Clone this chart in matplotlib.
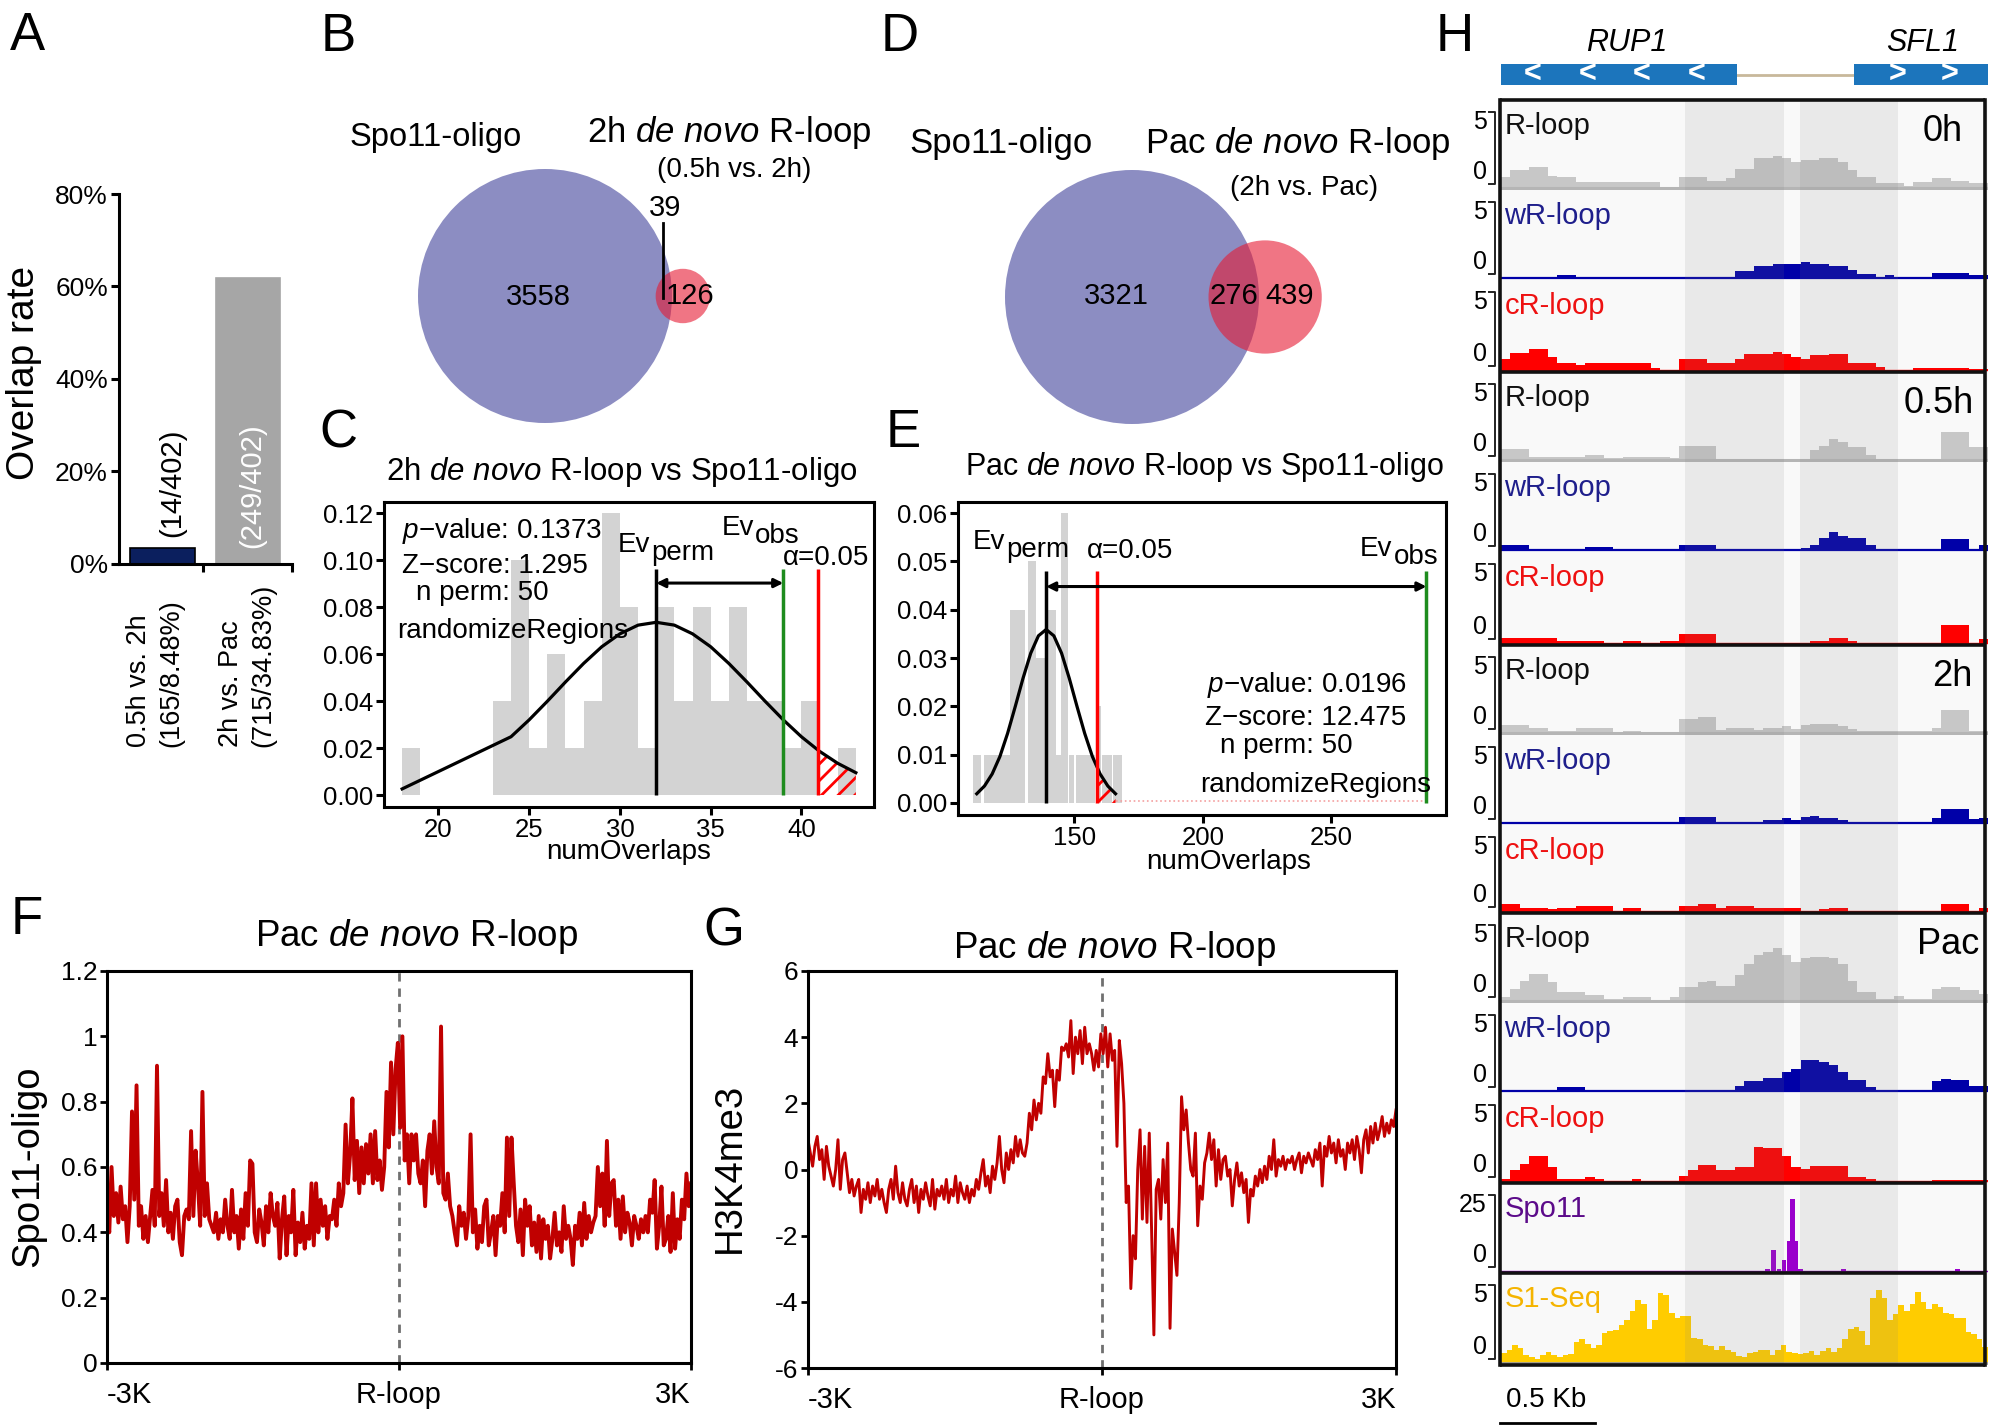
import numpy as np
import matplotlib
matplotlib.use('Agg')
import matplotlib.pyplot as plt
from matplotlib.patches import Ellipse, Rectangle

# ============================ DATA ============================
# Panel A
A_categories = ['0.5h vs. 2h\n(165/8.48%)', '2h vs. Pac\n(715/34.83%)']
A_overlap_pct = [3.48, 61.94]
A_bar_labels = ['(14/402)', '(249/402)']
A_yticks = [0, 20, 40, 60, 80]

# Panels B / D (Venn counts)
B_only_spo11, B_shared, B_only_rloop = 3558, 39, 126
D_only_spo11, D_shared, D_only_rloop = 3321, 276, 439

# Panel C (permutation test histogram)
C_bin_left = list(range(18, 43))
C_density = [0.02, 0, 0, 0, 0, 0.04, 0.10, 0.02, 0.06, 0.02, 0.04, 0.12, 0.08,
             0.02, 0.08, 0.04, 0.08, 0.04, 0.08, 0.04, 0.04, 0.02, 0.04, 0.00, 0.02]
C_curve_x = [18, 24, 25, 26, 27, 28, 29, 30, 31, 32, 33, 34, 35, 36, 37, 38, 39, 40, 41, 42, 43]
C_curve_y = [0.0026, 0.0248, 0.0320, 0.0399, 0.0481, 0.0560, 0.0631, 0.0686, 0.0723, 0.0735,
             0.0723, 0.0686, 0.0631, 0.0560, 0.0481, 0.0399, 0.0320, 0.0248, 0.0186, 0.0135, 0.0095]
C_perm, C_obs, C_alpha = 32, 39, 40.9
C_stats = ['$p$\u2212value: 0.1373', 'Z\u2212score: 1.295', 'n perm: 50', 'randomizeRegions']
C_xticks = [20, 25, 30, 35, 40]
C_yticks = [0.00, 0.02, 0.04, 0.06, 0.08, 0.10, 0.12]

# Panel E
E_bin_left = [110.5, 114.8, 118.4, 125.1, 131.8, 134.9, 138.5, 142.8, 144.7, 147.8, 150.7, 154.3, 158.3, 160.8, 165.1]
E_bin_right = [113.6, 118.4, 124.9, 130.6, 134.9, 138.5, 142.8, 144.7, 147.6, 150.0, 154.3, 157.9, 160.3, 164.8, 168.7]
E_density = [0.01, 0.01, 0.01, 0.04, 0.05, 0.03, 0.04, 0.01, 0.06, 0.01, 0.01, 0.01, 0.02, 0.01, 0.01]
E_curve_x = [112, 115, 118, 121, 124, 127, 130, 133, 136, 139, 142, 145, 148, 151, 154, 157, 160, 163, 166]
E_curve_y = [0.0019, 0.0035, 0.0060, 0.0096, 0.0144, 0.0200, 0.0258, 0.0310, 0.0346, 0.0359,
             0.0346, 0.0310, 0.0258, 0.0200, 0.0144, 0.0096, 0.0060, 0.0035, 0.0019]
E_perm, E_obs, E_alpha = 139, 287, 158.6
E_stats = ['$p$\u2212value: 0.0196', 'Z\u2212score: 12.475', 'n perm: 50', 'randomizeRegions']
E_xticks = [150, 200, 250]
E_yticks = [0.00, 0.01, 0.02, 0.03, 0.04, 0.05, 0.06]

# Panel F: Spo11-oligo profile (-3K .. +3K)
F_vals = [
 0.47, 0.40, 0.60, 0.45, 0.52, 0.43, 0.54, 0.44, 0.48, 0.37,
 0.48, 0.77, 0.50, 0.85, 0.42, 0.48, 0.38, 0.45, 0.37, 0.45,
 0.53, 0.42, 0.91, 0.45, 0.52, 0.42, 0.56, 0.40, 0.46, 0.38,
 0.48, 0.50, 0.37, 0.33, 0.45, 0.47, 0.44, 0.71, 0.45, 0.65,
 0.55, 0.42, 0.83, 0.45, 0.55, 0.44, 0.42, 0.40, 0.46, 0.38,
 0.44, 0.40, 0.50, 0.42, 0.38, 0.53, 0.40, 0.45, 0.35, 0.47,
 0.38, 0.52, 0.42, 0.62, 0.61, 0.40, 0.37, 0.47, 0.43, 0.36,
 0.48, 0.40, 0.52, 0.45, 0.42, 0.49, 0.32, 0.44, 0.51, 0.33,
 0.45, 0.40, 0.53, 0.33, 0.43, 0.37, 0.46, 0.35, 0.42, 0.38,
 0.55, 0.36, 0.55, 0.40, 0.50, 0.42, 0.48, 0.38, 0.45, 0.44,
 0.50, 0.42, 0.55, 0.48, 0.52, 0.73, 0.55, 0.64, 0.81, 0.56,
 0.68, 0.52, 0.66, 0.55, 0.67, 0.58, 0.70, 0.55, 0.71, 0.56,
 0.62, 0.53, 0.60, 0.83, 0.66, 0.92, 0.70, 0.90, 0.98, 0.72,
 1.00, 0.62, 0.70, 0.55, 0.70, 0.62, 0.70, 0.58, 0.55, 0.62,
 0.48, 0.65, 0.70, 0.58, 0.74, 0.60, 0.55, 1.03, 0.52, 0.50,
 0.58, 0.48, 0.45, 0.40, 0.36, 0.48, 0.42, 0.46, 0.38, 0.45,
 0.70, 0.40, 0.47, 0.35, 0.42, 0.37, 0.48, 0.50, 0.36, 0.40,
 0.45, 0.33, 0.45, 0.42, 0.52, 0.40, 0.69, 0.45, 0.69, 0.55,
 0.42, 0.37, 0.47, 0.33, 0.50, 0.42, 0.48, 0.36, 0.43, 0.34,
 0.45, 0.32, 0.44, 0.38, 0.42, 0.32, 0.38, 0.46, 0.36, 0.40,
 0.34, 0.48, 0.38, 0.42, 0.38, 0.30, 0.42, 0.38, 0.46, 0.36,
 0.49, 0.38, 0.45, 0.40, 0.43, 0.45, 0.60, 0.48, 0.58, 0.42,
 0.68, 0.45, 0.55, 0.56, 0.42, 0.50, 0.38, 0.51, 0.40, 0.46,
 0.43, 0.36, 0.45, 0.42, 0.38, 0.44, 0.40, 0.45, 0.40, 0.50,
 0.46, 0.56, 0.35, 0.42, 0.54, 0.36, 0.38, 0.45, 0.34, 0.52,
 0.35, 0.44, 0.38, 0.50, 0.44, 0.58, 0.48, 0.55]
F_xticks = [-3000, 0, 3000]
F_xticklabels = ['-3K', 'R-loop', '3K']
F_yticks = [0, 0.2, 0.4, 0.6, 0.8, 1.0, 1.2]
F_yticklabels = ['0', '0.2', '0.4', '0.6', '0.8', '1', '1.2']

# Panel G: H3K4me3 profile (-3K .. +3K)
G_vals = [
 0.9, 0.5, 0.1, 0.7, 1.0, 0.3, 0.6, -0.3, 0.7, 0.1,
 -0.2, -0.5, 0.0, 0.9, -0.6, 0.3, 0.5, -0.1, -0.7, -0.3,
 -0.8, -0.5, -0.3, -1.3, -0.6, -0.9, -0.4, -1.0, -0.5, -0.8,
 -0.3, -0.9, -0.6, -1.0, -1.3, -0.6, -0.3, -0.9, 0.1, -0.7,
 -1.0, -0.4, -0.9, -1.1, -0.6, -0.3, -1.0, -0.5, -1.3, -0.6,
 -0.9, -0.4, -0.8, -1.1, -0.3, -1.2, -0.6, -0.8, -0.5, -0.9,
 -0.3, -1.0, -0.6, -0.8, -0.2, -1.0, -0.4, -0.7, -0.9, -0.5,
 -1.0, -0.6, -0.8, -0.3, -0.6, -0.1, 0.3, -0.5, -0.2, -0.7,
 0.1, -0.3, 0.2, 1.0, 0.0, -0.4, 0.5, 0.0, 0.6, 0.2,
 1.0, 0.4, 0.9, 0.5, 0.4, 0.8, 1.7, 1.2, 2.1, 1.5,
 2.0, 1.7, 2.8, 2.6, 3.5, 2.8, 3.0, 1.9, 3.0, 2.7,
 3.7, 3.6, 3.8, 3.4, 4.5, 2.9, 4.0, 3.5, 4.2, 3.2,
 4.3, 3.5, 3.8, 3.5, 3.0, 3.6, 3.1, 4.1, 3.5, 4.3,
 3.1, 4.1, 3.3, 3.6, 0.7, 3.9, 3.2, 2.0, -1.0, -0.5,
 -3.6, -2.0, -2.7, 0.0, 1.2, -1.5, 0.7, -1.6, 1.1, -1.8,
 -5.0, -0.6, -0.3, -1.5, 0.3, -1.0, 0.8, -4.8, -1.8, -2.5,
 -3.2, -1.0, 2.2, 1.2, 1.8, 0.8, 0.0, -0.2, 1.1, -1.7,
 -0.5, -0.9, 0.2, 0.5, 1.1, 0.3, 0.9, -0.5, 0.6, -0.3,
 0.3, 0.4, -0.2, 0.0, -1.1, -0.3, 0.2, -0.5, -0.1, -0.7,
 -0.3, -1.6, -0.6, -0.8, -0.2, -0.5, 0.0, -0.4, 0.1, -0.3,
 0.4, 0.0, 0.9, -0.2, 0.3, 0.1, 0.4, 0.0, 0.3, 0.2,
 0.4, 0.0, 0.3, 0.5, -0.1, 0.4, 0.2, 0.5, 0.3, 0.1,
 0.6, 0.3, 0.8, -0.5, 0.7, 0.4, 1.0, 0.5, 0.8, 0.2,
 0.9, 0.4, 0.6, 0.0, 0.8, 0.5, 0.9, 0.3, 1.0, 0.6,
 -0.1, 0.9, 1.2, 0.5, 1.3, 0.8, 1.4, 0.9, 1.2, 1.6,
 1.0, 1.4, 1.1, 1.5, 1.3, 1.8]
G_yticks = [-6, -4, -2, 0, 2, 4, 6]
G_yticklabels = ['-6', '-4', '-2', '0', '2', '4', '6']

# Panel H: genome browser tracks (values on 0-5 scale, evenly spaced bins)
H_rloop_0h  = [0.6, 1.0, 1.0, 1.2, 1.2, 0.7, 0.6, 0.6, 0.35, 0.35, 0.35, 0.35, 0.35, 0.35, 0.35, 0.35, 0.35,
               0.05, 0.05, 0.6, 0.6, 0.6, 0.4, 0.4, 0.55, 1.05, 1.05, 1.7, 1.7, 1.8, 1.7, 1.5, 1.6, 1.6, 1.7,
               1.7, 1.5, 1.0, 0.6, 0.6, 0.25, 0.25, 0.25, 0.1, 0.35, 0.35, 0.55, 0.55, 0.4, 0.4, 0.3, 0.3]
H_wrloop_0h = [0, 0, 0, 0, 0, 0, 0.15, 0.15] + [0] * 17 + \
              [0.4, 0.4, 0.7, 0.7, 0.8, 0.8, 0.8, 0.9, 0.8, 0.8, 0.7, 0.7, 0.45, 0.2, 0.2, 0.02, 0.15,
               0, 0, 0, 0, 0.3, 0.3, 0.3, 0.3, 0.15, 0.15]
H_crloop_0h = [0.63, 0.95, 0.95, 1.17, 1.17, 0.7, 0.4, 0.4, 0.25, 0.4, 0.4, 0.4, 0.4, 0.4, 0.4, 0.4, 0.1, 0, 0,
               0.63, 0.63, 0.63, 0.4, 0.4, 0.4, 0.6, 0.9, 0.9, 0.9, 1.0, 0.9, 0.7, 0.6, 0.8, 0.8, 0.9, 0.9,
               0.4, 0.4, 0.4, 0.15, 0, 0, 0, 0.1, 0.1, 0.1, 0.1, 0.1, 0.1, 0.05, 0.05]
H_rloop_05h = [0.63, 0.63, 0.63, 0.15, 0.15, 0.15, 0.15, 0.15, 0.15, 0.25, 0.25, 0.1, 0.1, 0.15, 0.15, 0.15,
               0.15, 0.15, 0.1, 0.8, 0.8, 0.8, 0.8] + [0.05] * 10 + \
              [0.55, 0.8, 1.2, 1.0, 0.75, 0.75, 0.25] + [0.05] * 7 + [1.6, 1.6, 1.6, 0.75, 0.75]
H_wrloop_05h = [0.25, 0.25, 0.25] + [0] * 6 + [0.15, 0.15, 0.15] + [0] * 7 + [0.25] * 4 + [0] * 9 + \
               [0.1, 0.25, 0.7, 1.0, 0.8, 0.7, 0.7, 0.25] + [0] * 7 + [0.6, 0.6, 0.6, 0, 0.3]
H_crloop_05h = [0.25] * 6 + [0.1] * 5 + [0, 0, 0.1, 0.1, 0, 0, 0.1, 0.1] + [0.5] * 4 + [0] * 10 + \
               [0.1, 0.1, 0.25, 0.25, 0.1] + [0] * 9 + [1.0, 1.0, 1.0, 0, 0.2]
H_rloop_2h = [0.45, 0.45, 0.45, 0.3, 0.3, 0.1, 0.1, 0.1, 0.25, 0.25, 0.25, 0.25, 0.05, 0.1, 0.1,
              0.05, 0.05, 0.05, 0.05, 0.8, 0.8, 0.9, 0.9, 0.15, 0.3, 0.3, 0.3, 0.15, 0.3, 0.3, 0.4, 0.2,
              0.45, 0.5, 0.5, 0.5, 0.4, 0.2] + [0.1] * 8 + [0.3, 1.3, 1.3, 1.3, 0.1, 0.1]
H_wrloop_2h = [0] * 19 + [0.35] * 4 + [0] * 5 + [0.15, 0.15, 0.25, 0.15, 0.35, 0.4, 0.25, 0.25, 0.15] + \
              [0] * 9 + [0.25, 0.8, 0.8, 0.8, 0.2, 0.3]
H_crloop_2h = [0.4, 0.4, 0.2, 0.2, 0.2, 0.1, 0.15, 0.15, 0.3, 0.3, 0.3, 0.3, 0, 0.15, 0.15, 0, 0, 0, 0,
               0.3, 0.3, 0.4, 0.4, 0.15, 0.3, 0.3, 0.3, 0.15, 0.15, 0.15, 0.15, 0.15, 0, 0, 0.1, 0.15, 0.15] + \
              [0] * 10 + [0.4, 0.4, 0.4, 0, 0.2]
H_rloop_pac = [0.2, 0.7, 1.15, 1.55, 1.55, 1.05, 0.5, 0.5, 0.5, 0.33, 0.33, 0.13, 0.13, 0.23, 0.23, 0.23,
               0.04, 0.04, 0.2, 0.8, 0.8, 1.05, 1.15, 0.85, 0.85, 1.45, 2.1, 2.6, 2.8, 3.0, 2.6, 2.2, 2.45,
               2.5, 2.5, 2.45, 2.1, 1.15, 0.5, 0.5, 0.13, 0.13, 0.25, 0.13, 0.13, 0.13, 0.7, 0.8, 0.8,
               0.6, 0.6, 0.4]
H_wrloop_pac = [0] * 6 + [0.2] * 3 + [0] * 16 + \
               [0.3, 0.55, 0.55, 0.75, 0.75, 1.05, 1.25, 1.75, 1.75, 1.65, 1.5, 1.05, 0.6, 0.6, 0.2] + \
               [0] * 6 + [0.55, 0.7, 0.6, 0.6, 0.3, 0.3]
H_crloop_pac = [0.13, 0.6, 0.95, 1.4, 1.4, 0.8, 0.13, 0.13, 0.13, 0.23, 0.13, 0, 0, 0, 0.13, 0, 0, 0, 0,
                0.3, 0.6, 0.9, 0.9, 0.6, 0.6, 0.8, 0.8, 1.9, 1.85, 1.85, 1.4, 0.8, 0.65, 0.85, 0.85, 0.85,
                0.85, 0.2, 0.2, 0.13] + [0] * 6 + [0.05] * 6
H_spo11_pos = [54.7, 56.0, 57.1, 58.1, 59.1, 59.8, 60.6, 61.5, 70.3, 93.8]
H_spo11_val = [0.6, 6.0, 0.5, 3.0, 8.5, 20.5, 8.5, 0.4, 0.4, 0.4]
H_s1seq = [0.53, 0.72, 1.0, 0.8, 0.45, 0.35, 0.2, 0.45, 0.6, 0.45,
           0.35, 0.43, 0.5, 1.15, 1.3, 1.05, 0.85, 1.0, 1.65, 1.75,
           1.85, 2.1, 2.4, 2.9, 3.5, 3.3, 1.9, 2.4, 3.9, 3.75,
           2.8, 2.5, 2.6, 2.6, 1.4, 1.3, 1.0, 0.92, 0.72, 0.92,
           0.72, 0.63, 0.4, 0.33, 0.53, 0.6, 0.72, 0.72, 0.43, 0.72,
           0.98, 0.6, 0.53, 0.47, 0.53, 0.67, 0.43, 0.67, 0.8, 0.6,
           0.82, 1.3, 1.9, 2.0, 1.8, 1.0, 3.6, 4.05, 3.6, 2.4,
           2.7, 3.2, 2.9, 3.3, 3.95, 3.4, 3.0, 3.3, 3.1, 2.8,
           2.7, 2.5, 2.5, 1.7, 1.6, 1.3, 0.9]
H_bands = [(37.8, 58.1), (61.4, 81.6)]
H_genes = ['RUP1', 'SFL1']
H_gene_start = [0.0, 73.0]
H_gene_end = [48.5, 100.0]
H_gene_strand = ['-', '+']
H_timepoints = ['0h', '0.5h', '2h', 'Pac']

# ============================ STYLE ============================
W, H = 2008, 1425
REG = ['Liberation Sans', 'DejaVu Sans']
plt.rcParams['font.family'] = REG
plt.rcParams['mathtext.fontset'] = 'custom'
plt.rcParams['mathtext.rm'] = 'Liberation Sans'
plt.rcParams['mathtext.it'] = 'Liberation Sans:italic'
plt.rcParams['mathtext.bf'] = 'Liberation Sans:bold'
plt.rcParams['hatch.linewidth'] = 2.0

fig = plt.figure(figsize=(W / 100, H / 100), dpi=100)
fig.patch.set_facecolor('white')


def axpx(x0, y0, x1, y1, **kw):
    return fig.add_axes([x0 / W, 1 - y1 / H, (x1 - x0) / W, (y1 - y0) / H], **kw)


def frame(ax, lw=2.2):
    for s in ax.spines.values():
        s.set_linewidth(lw)
        s.set_color('black')


# ---------------- Panel A ----------------
axA = axpx(119, 194, 292, 564)
xA = np.arange(len(A_overlap_pct))
axA.bar(xA, A_overlap_pct, width=0.76, color=['#0B1F5E', '#A6A6A6'],
        edgecolor=['#000000', '#A6A6A6'], linewidth=1.2)
axA.set_xlim(-0.509, 1.515)
axA.set_ylim(0, 80)
axA.set_yticks(A_yticks, [f'{v}%' for v in A_yticks], fontsize=19)
axA.set_xticks([0.474, 1.515], ['', ''])
axA.spines[['top', 'right']].set_visible(False)
for s in ['left', 'bottom']:
    axA.spines[s].set_linewidth(2.2)
axA.tick_params(width=2.2, length=6, pad=2)
axA.text(xA[0] + 0.11, 17.6, A_bar_labels[0], rotation=90, ha='center', va='center',
         fontsize=21, color='black')
axA.text(xA[1] + 0.047, 16.9, A_bar_labels[1], rotation=90, ha='center', va='center',
         fontsize=21, color='white')

# ---------------- Panel C ----------------
axC = axpx(384, 502, 874, 807)
axC.bar(C_bin_left, C_density, width=1, align='edge', color='#D3D3D3', lw=0, zorder=1)
cx = np.array(C_curve_x, float)
cy = np.array(C_curve_y, float)
hx = np.concatenate([[C_alpha], cx[cx > C_alpha]])
axC.fill_between(hx, 0, np.interp(hx, cx, cy), facecolor='none', edgecolor='red',
                 hatch='//', lw=0, zorder=2)
axC.plot(cx, cy, color='black', lw=2.3, zorder=4)
axC.vlines(C_perm, 0, 0.096, color='black', lw=2.5, zorder=5)
axC.vlines(C_obs, 0, 0.096, color='#1E8C1E', lw=2.5, zorder=5)
axC.vlines(C_alpha, 0, 0.096, color='#FF0000', lw=2.5, zorder=5)
axC.annotate('', xy=(C_obs, 0.0902), xytext=(C_perm, 0.0902),
             arrowprops=dict(arrowstyle='<|-|>', color='black', lw=2.2, mutation_scale=13,
                             shrinkA=0, shrinkB=0), zorder=6)
axC.set_xlim(17.0, 44.0)
axC.set_ylim(-0.0051, 0.1247)
axC.set_xticks(C_xticks, [str(v) for v in C_xticks], fontsize=18.5)
axC.set_yticks(C_yticks, [f'{v:.2f}' for v in C_yticks], fontsize=18.5)
axC.set_xlabel('numOverlaps', fontsize=20, labelpad=-2)
frame(axC)
axC.tick_params(width=2.2, length=6, pad=2)
for (xt, yt), s in zip([(18.0, 0.1122), (18.0, 0.0973), (18.74, 0.0859), (17.7, 0.0696)], C_stats):
    axC.text(xt, yt, s, fontsize=20, ha='left', va='center', zorder=7)
tev = axC.text(29.9, 0.1062, 'Ev', fontsize=20, ha='left', va='center', zorder=7)
axC.annotate('perm', xy=(1.0, 0.5), xycoords=tev, xytext=(1, -8), textcoords='offset pixels',
             fontsize=20, ha='left', va='center', zorder=7)
tev2 = axC.text(35.6, 0.1136, 'Ev', fontsize=20, ha='left', va='center', zorder=7)
axC.annotate('obs', xy=(1.0, 0.5), xycoords=tev2, xytext=(1, -8), textcoords='offset pixels',
             fontsize=20, ha='left', va='center', zorder=7)
axC.text(39.0, 0.1009, '\u03b1=0.05', fontsize=20, ha='left', va='center', zorder=7)

# ---------------- Panel E ----------------
axE = axpx(958, 502, 1446, 815)
eL = np.array(E_bin_left)
eR = np.array(E_bin_right)
axE.bar(eL, E_density, width=eR - eL, align='edge', color='#D3D3D3', lw=0, zorder=1)
ex = np.array(E_curve_x, float)
ey = np.array(E_curve_y, float)
hx = np.concatenate([[E_alpha], ex[ex > E_alpha]])
axE.fill_between(hx, 0, np.interp(hx, ex, ey), facecolor='none', edgecolor='red',
                 hatch='//', lw=0, zorder=2)
axE.hlines(0.0004, ex[-1], E_obs, color='#F4A0A0', lw=1.2, ls=':', zorder=2)
axE.plot(ex, ey, color='black', lw=2.3, zorder=4)
axE.vlines(E_perm, 0, 0.048, color='black', lw=2.5, zorder=5)
axE.vlines(E_alpha, 0, 0.048, color='#FF0000', lw=2.5, zorder=5)
axE.vlines(E_obs, 0, 0.048, color='#1E8C1E', lw=2.5, zorder=5)
axE.annotate('', xy=(E_obs, 0.0448), xytext=(E_perm, 0.0448),
             arrowprops=dict(arrowstyle='<|-|>', color='black', lw=2.2, mutation_scale=13,
                             shrinkA=0, shrinkB=0), zorder=6)
axE.set_xlim(104.7, 294.6)
axE.set_ylim(-0.0025, 0.0623)
axE.set_xticks(E_xticks, [str(v) for v in E_xticks], fontsize=18.5)
axE.set_yticks(E_yticks, [f'{v:.2f}' for v in E_yticks], fontsize=18.5)
axE.set_xlabel('numOverlaps', fontsize=20, labelpad=-1)
axE.xaxis.label.set_x(0.555)
frame(axE)
axE.tick_params(width=2.2, length=6, pad=2)
for (xt, yt), s in zip([(201.7, 0.0245), (201.0, 0.0176), (206.5, 0.0117), (198.9, 0.0038)], E_stats):
    axE.text(xt, yt, s, fontsize=20, ha='left', va='center', zorder=7)
tev = axE.text(110.5, 0.0541, 'Ev', fontsize=20, ha='left', va='center', zorder=7)
axE.annotate('perm', xy=(1.0, 0.5), xycoords=tev, xytext=(1, -8), textcoords='offset pixels',
             fontsize=20, ha='left', va='center', zorder=7)
tobs = axE.text(291.5, 0.0510, 'obs', fontsize=20, ha='right', va='center', zorder=7)
axE.annotate('Ev', xy=(0.0, 0.5), xycoords=tobs, xytext=(-1, 8), textcoords='offset pixels',
             fontsize=20, ha='right', va='center', zorder=7)
axE.text(155.0, 0.0521, '\u03b1=0.05', fontsize=20, ha='left', va='center', zorder=7)

# ---------------- Panel F ----------------
axF = axpx(107, 971, 691, 1363)
xF = np.linspace(-3000, 3000, len(F_vals))
axF.axvline(0, color='#707070', lw=2, ls=(0, (3, 2.5)), zorder=1)
axF.plot(xF, F_vals, color='#C00000', lw=2.8, zorder=2)
axF.set_xlim(-3000, 3000)
axF.set_ylim(0, 1.2)
axF.set_yticks(F_yticks, F_yticklabels, fontsize=19)
axF.set_xticks(F_xticks, F_xticklabels, fontsize=21)
labs = axF.get_xticklabels()
labs[0].set_ha('left')
labs[-1].set_ha('right')
frame(axF)
axF.tick_params(axis='x', width=2, length=5, pad=8)
axF.tick_params(axis='y', width=2, length=5, pad=2)

# ---------------- Panel G ----------------
axG = axpx(808, 971, 1396, 1368)
xG = np.linspace(-3000, 3000, len(G_vals))
axG.axvline(0, color='#707070', lw=2, ls=(0, (3, 2.5)), zorder=1)
axG.plot(xG, G_vals, color='#C00000', lw=2.1, zorder=2)
axG.set_xlim(-3000, 3000)
axG.set_ylim(-6, 6)
axG.set_yticks(G_yticks, G_yticklabels, fontsize=19)
axG.set_xticks(F_xticks, F_xticklabels, fontsize=21)
labs = axG.get_xticklabels()
labs[0].set_ha('left')
labs[-1].set_ha('right')
frame(axG)
axG.tick_params(axis='x', width=2, length=5, pad=8)
axG.tick_params(axis='y', width=2, length=5, pad=2)

# ---------------- Panel H ----------------
HX0, HX1 = 1501, 1988
track_px = [100, 190, 280, 372, 462, 552, 645, 735, 825, 913, 1003, 1093, 1183, 1273, 1365]
styles = {
    'rl': dict(color='#C7C7C7', label='R-loop', lc='#111111', bc='#B5B5B5', blw=2.2, ymax=5),
    'wr': dict(color='#0000A8', label='wR-loop', lc='#1F1F8C', bc='#0000A8', blw=1.6, ymax=5),
    'cr': dict(color='#FF0000', label='cR-loop', lc='#EE1111', bc='#FF0000', blw=1.0, ymax=5),
    'spo': dict(color='#9A00CC', label='Spo11', lc='#5C0B8A', bc='#9A00CC', blw=1.0, ymax=25),
    's1': dict(color='#FFCC00', label='S1-Seq', lc='#F5B400', bc='#999999', blw=2.0, ymax=5),
}
track_defs = [('rl', H_rloop_0h), ('wr', H_wrloop_0h), ('cr', H_crloop_0h),
              ('rl', H_rloop_05h), ('wr', H_wrloop_05h), ('cr', H_crloop_05h),
              ('rl', H_rloop_2h), ('wr', H_wrloop_2h), ('cr', H_crloop_2h),
              ('rl', H_rloop_pac), ('wr', H_wrloop_pac), ('cr', H_crloop_pac),
              ('spo', None), ('s1', H_s1seq)]
for (kind, vals), top, bot in zip(track_defs, track_px[:-1], track_px[1:]):
    st = styles[kind]
    ax = axpx(HX0, top, HX1, bot)
    ax.set_facecolor('#F9F9F9')
    ax.set_xlim(0, 100)
    ax.set_ylim(-st['ymax'] * 0.024, st['ymax'])
    if kind == 'spo':
        ax.bar(H_spo11_pos, H_spo11_val, width=0.95, color=st['color'], lw=0, zorder=2)
    else:
        edges = np.linspace(0, 100, len(vals) + 1)
        ax.stairs(vals, edges, fill=True, color=st['color'], lw=0, zorder=2)
    ax.axhline(0, color=st['bc'], lw=st['blw'], zorder=3)
    for b0, b1 in H_bands:
        ax.axvspan(b0, b1, color='#7F7F7F', alpha=0.13, lw=0, zorder=4)
    ax.set_xticks([])
    ax.set_yticks([])
    for s in ax.spines.values():
        s.set_visible(False)
    ax.text(0.007, 1 - 26 / (bot - top), st['label'], transform=ax.transAxes, ha='left', va='center',
            fontsize=21, color=st['lc'], zorder=6)

# gene annotation track
axGene = axpx(HX0, 58, HX1, 90)
axGene.set_xlim(0, 100)
axGene.set_ylim(0, 1)
axGene.axis('off')
axGene.plot([H_gene_end[0], H_gene_start[1]], [0.47, 0.47], color='#C8B89A', lw=2, zorder=1)
for g, s0, s1, strand in zip(H_genes, H_gene_start, H_gene_end, H_gene_strand):
    axGene.add_patch(Rectangle((s0 - 0.6, 0.16), s1 - s0 + 0.6, 0.66, color='#1C75BC', lw=0, zorder=2))
    if strand == '-':
        pos = np.arange(s0 + 6.5, s1 - 5, 11.2)
        ch = '<'
    else:
        pos = np.arange(s0 + 8.5, s1 - 5, 10.6)
        ch = '>'
    for p in pos:
        axGene.text(p, 0.47, ch, color='white', fontsize=22, fontweight='bold', ha='center', va='center',
                    zorder=3)
    axGene.text((s0 + s1) / 2 + (1.5 if strand == '-' else 0), 1.47, g, fontstyle='italic', fontsize=22,
                ha='center', va='center', clip_on=False)

# ---------------- Overlay (pixel coordinates) ----------------
ov = fig.add_axes([0, 0, 1, 1], zorder=10)
ov.set_xlim(0, W)
ov.set_ylim(H, 0)
ov.axis('off')
ov.patch.set_alpha(0)


def lens_area(d, r1, r2):
    if d >= r1 + r2:
        return 0.0
    if d <= abs(r1 - r2):
        return np.pi * min(r1, r2) ** 2
    a1 = r1 ** 2 * np.arccos((d * d + r1 * r1 - r2 * r2) / (2 * d * r1))
    a2 = r2 ** 2 * np.arccos((d * d + r2 * r2 - r1 * r1) / (2 * d * r2))
    a3 = 0.5 * np.sqrt((-d + r1 + r2) * (d + r1 - r2) * (d - r1 + r2) * (d + r1 + r2))
    return a1 + a2 - a3


def draw_venn(cx, cy, R, a_only, shared, b_only):
    nA, nB = a_only + shared, b_only + shared
    r2 = R * np.sqrt(nB / nA)
    target = shared / nA * np.pi * R * R
    lo, hi = abs(R - r2), R + r2
    for _ in range(80):
        mid = 0.5 * (lo + hi)
        if lens_area(mid, R, r2) > target:
            lo = mid
        else:
            hi = mid
    d = 0.5 * (lo + hi)
    ov.add_patch(Ellipse((cx, cy), 2 * R, 2 * R, color='#8C8DC2', lw=0, zorder=1))
    ov.add_patch(Ellipse((cx + d, cy), 2 * r2, 2 * r2, color=(0.9, 0.1, 0.2), alpha=0.6,
                         lw=0, zorder=2))
    return cx + d, r2


# Venn B
draw_venn(545, 296, 127, B_only_spo11, B_shared, B_only_rloop)
ov.text(538, 297, f'{B_only_spo11}', fontsize=21, ha='center', va='center', zorder=3)
ov.text(690, 296, f'{B_only_rloop}', fontsize=21, ha='center', va='center', zorder=3)
ov.text(665, 208, f'{B_shared}', fontsize=21, ha='center', va='center', zorder=3)
ov.plot([663, 663], [223, 298], color='black', lw=2, zorder=3)
ov.text(436, 137, 'Spo11-oligo', fontsize=23.5, ha='center', va='center')
ov.text(729, 132, '2h $\\mathit{de}$ $\\mathit{novo}$ R-loop', fontsize=25, ha='center', va='center')
ov.text(734, 170, '(0.5h vs. 2h)', fontsize=20, ha='center', va='center')

# Venn D
draw_venn(1132, 297, 127, D_only_spo11, D_shared, D_only_rloop)
ov.text(1116, 296, f'{D_only_spo11}', fontsize=21, ha='center', va='center', zorder=3)
ov.text(1234, 296, f'{D_shared}', fontsize=21, ha='center', va='center', zorder=3)
ov.text(1290, 296, f'{D_only_rloop}', fontsize=21, ha='center', va='center', zorder=3)
ov.text(1001, 143, 'Spo11-oligo', fontsize=25, ha='center', va='center')
ov.text(1298, 143, 'Pac $\\mathit{de}$ $\\mathit{novo}$ R-loop', fontsize=25, ha='center', va='center')
ov.text(1304, 188, '(2h vs. Pac)', fontsize=20, ha='center', va='center')

# Panel A labels
ov.text(24, 373, 'Overlap rate', rotation=90, ha='center', va='center', fontsize=28)
ov.text(155, 747, A_categories[0], rotation=90, ha='center', va='bottom', multialignment='left',
        fontsize=19.5, linespacing=1.3)
ov.text(247, 747, A_categories[1], rotation=90, ha='center', va='bottom', multialignment='left',
        fontsize=19.5, linespacing=1.3)

# titles C / E / F / G
ov.text(622, 472, '2h $\\mathit{de}$ $\\mathit{novo}$ R-loop vs Spo11-oligo', fontsize=22.5,
        ha='center', va='center')
ov.text(1204, 467, 'Pac $\\mathit{de}$ $\\mathit{novo}$ R-loop vs Spo11-oligo', fontsize=22,
        ha='center', va='center')
ov.text(417, 936, 'Pac $\\mathit{de}$ $\\mathit{novo}$ R-loop', fontsize=26.5, ha='center', va='center')
ov.text(1115, 948, 'Pac $\\mathit{de}$ $\\mathit{novo}$ R-loop', fontsize=26.5, ha='center', va='center')
ov.text(28, 1166, 'Spo11-oligo', rotation=90, fontsize=27.5, ha='center', va='center')
ov.text(730, 1168, 'H3K4me3', rotation=90, fontsize=27.5, ha='center', va='center')

# panel H decorations
for top, bot, kind in zip(track_px[:-1], track_px[1:], [k for k, _ in track_defs]):
    toplab = '25' if kind == 'spo' else '5'
    ov.text(1487, top + 22, toplab, fontsize=18, ha='right', va='center')
    ov.text(1487, bot - 18, '0', fontsize=18, ha='right', va='center')
    ov.plot([1489, 1495, 1495, 1489], [top + 12, top + 12, bot - 6, bot - 6], color='#222222', lw=1.4)
for y in [100, 372, 645, 913, 1183, 1273, 1365]:
    ov.plot([1500, 1985], [y, y], color='#111111', lw=2.6, solid_capstyle='butt', zorder=5)
ov.plot([1500, 1500], [100, 1365], color='#111111', lw=2.6, zorder=5)
ov.plot([1985, 1985], [100, 1365], color='#111111', lw=2.6, zorder=5)
for lab, gtop, xr in zip(H_timepoints, [100, 372, 645, 913], [1963, 1974, 1973, 1979]):
    ov.text(xr, gtop + 31, lab, fontsize=26, ha='right', va='center', zorder=6)
ov.text(1506, 1400, '0.5 Kb', fontsize=20, ha='left', va='center')
ov.plot([1500, 1595], [1423, 1423], color='black', lw=2)

# panel letters
for lab, (x, y) in zip('ABCDEFGH',
                       [(27, 36), (338, 37), (338, 433), (900, 37), (903, 433), (27, 920),
                        (724, 931), (1455, 37)]):
    ov.text(x, y, lab, fontsize=38, ha='center', va='center')

fig.savefig('out.png', dpi=100, facecolor='white')
